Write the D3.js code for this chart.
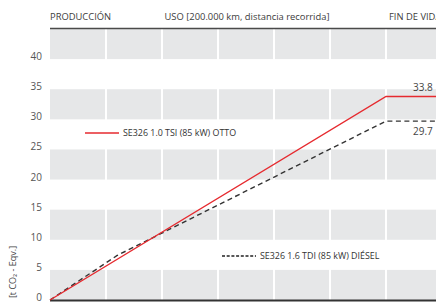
<!DOCTYPE html>
<html>
<head>
<meta charset="utf-8">
<script src="https://cdn.jsdelivr.net/npm/d3@7.9.0/dist/d3.min.js"></script>
<style>
  body { margin: 0; background: #fff; }
  svg { display: block; font-family: 'Open Sans', sans-serif; }
</style>
</head>
<body>
<svg id="chart" width="436" height="302"></svg>
<script>
// x in "columns" of the grid (7 columns); production / use / end of life
const phases = [
  { label: 'PRODUCCIÓN', from: 0, to: 1, anchor: 'start' },
  { label: 'USO [200.000 km, distancia recorrida]', from: 1, to: 6, anchor: 'middle' },
  { label: 'FIN DE VIDA', from: 6, to: 7, anchor: 'start' }
];
const ottoX = [0, 6, 7];
const ottoY = [0, 33.8, 33.8];
const dieselX = [0, 1.2, 6, 7];
const dieselY = [0, 7.4, 29.7, 29.7];
const yTicks = [0, 5, 10, 15, 20, 25, 30, 35, 40];
const ottoLabel = 'SE326 1.0 TSI (85 kW) OTTO';
const dieselLabel = 'SE326 1.6 TDI (85 kW) DIÉSEL';

const svg = d3.select('#chart');
const x = d3.scaleLinear().domain([0, 7]).range([50, 442]);
const y = d3.scaleLinear().domain([0, 45]).range([300, 29]);

// gray bands, split into columns
const bands = [0, 10, 20, 30, 40];
const cols = d3.range(7);
bands.forEach((b) => {
  cols.forEach((c) => {
    svg.append('rect')
      .attr('x', x(c) + (c === 0 ? 0 : 1))
      .attr('y', y(b + 5))
      .attr('width', x(c + 1) - x(c) - (c === 0 ? 1 : 2))
      .attr('height', y(b) - y(b + 5))
      .attr('fill', '#e6e7e8');
  });
});

// header line + phase labels
svg.append('line')
  .attr('x1', x(0)).attr('x2', 436)
  .attr('y1', 28.5).attr('y2', 28.5)
  .attr('stroke', '#4a4a4a').attr('stroke-width', 1.5);

phases.forEach((p) => {
  svg.append('text')
    .attr('x', p.anchor === 'middle' ? (x(p.from) + x(p.to)) / 2 + 1 : x(p.from) + (p.from === 6 ? 3 : 0))
    .attr('y', 20)
    .attr('text-anchor', p.anchor)
    .attr('font-size', 9.4)
    .attr('fill', '#3c3c3c')
    .text(p.label);
});

// y tick labels
svg.selectAll('.ytick')
  .data(yTicks)
  .join('text')
  .attr('class', 'ytick')
  .attr('x', 42)
  .attr('y', (d) => y(d) + 1)
  .attr('text-anchor', 'end')
  .attr('font-size', 10)
  .attr('fill', '#555')
  .text((d) => d);

// y axis title
svg.append('text')
  .attr('transform', 'translate(16,272) rotate(-90)')
  .attr('text-anchor', 'middle')
  .attr('font-size', 9)
  .attr('fill', '#444')
  .text('[t CO₂ - Eqv.]');

// baseline
svg.append('line')
  .attr('x1', x(0)).attr('x2', 436)
  .attr('y1', 300.5).attr('y2', 300.5)
  .attr('stroke', '#333').attr('stroke-width', 2);

const line = d3.line().x((d) => x(d[0])).y((d) => y(d[1]));

svg.append('path')
  .attr('d', line(d3.zip(dieselX, dieselY)))
  .attr('fill', 'none')
  .attr('stroke', '#333')
  .attr('stroke-width', 1.4)
  .attr('stroke-dasharray', '5,3.5');

svg.append('path')
  .attr('d', line(d3.zip(ottoX, ottoY)))
  .attr('fill', 'none')
  .attr('stroke', '#e62a2f')
  .attr('stroke-width', 1.4);

// end value labels
svg.append('text')
  .attr('x', 413).attr('y', y(ottoY[2]) - 5)
  .attr('font-size', 10).attr('fill', '#444')
  .text(ottoY[2].toFixed(1));
svg.append('text')
  .attr('x', 413).attr('y', y(dieselY[3]) + 14)
  .attr('font-size', 10).attr('fill', '#444')
  .text(dieselY[3].toFixed(1));

// legends
function legend(x0, yy, color, dash, label) {
  svg.append('line')
    .attr('x1', x0).attr('x2', x0 + 34)
    .attr('y1', yy).attr('y2', yy)
    .attr('stroke', color).attr('stroke-width', 1.3)
    .attr('stroke-dasharray', dash);
  svg.append('text')
    .attr('x', x0 + 38).attr('y', yy + 3)
    .attr('font-size', 8.9).attr('fill', '#333')
    .text(label);
}
legend(85, 133, '#e62a2f', null, ottoLabel);
legend(222, 256, '#222', '3,1.7', dieselLabel);
</script>
</body>
</html>
